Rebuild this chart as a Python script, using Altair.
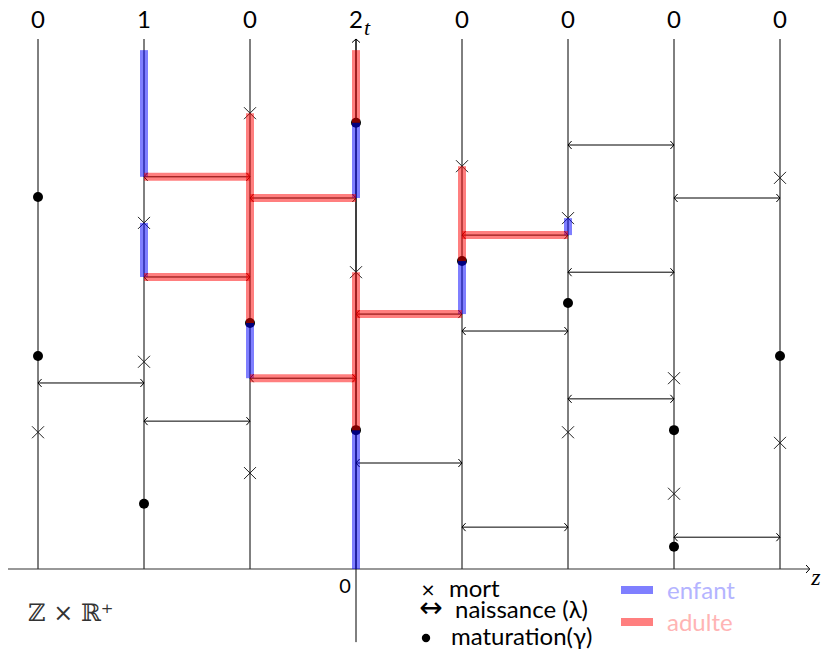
import altair as alt
import pandas as pd

# ---------------- data ----------------
columns = [-3, -2, -1, 0, 1, 2, 3, 4]
top_labels = ["0", "1", "0", "2", "0", "0", "0", "0"]
T_TOP = 10.0

# deaths (×)
death_z = [-3, -2, -2, -1, -1, 0, 1, 2, 2, 3, 3, 4, 4]
death_t = [2.58, 6.53, 3.91, 8.60, 1.81, 5.60, 7.60, 6.62, 2.58, 3.60, 1.42, 7.38, 2.38]

# maturations (•)
mat_z = [-3, -3, -2, -1, 0, 0, 1, 2, 3, 3, 4]
mat_t = [7.02, 4.02, 1.23, 4.64, 8.42, 2.62, 5.81, 5.02, 2.62, 0.42, 4.02]

# births (↔) between column z and z+1
birth_z = [-3, -2, -2, -2, -1, -1, 0, 0, 1, 1, 1, 2, 2, 2, 3, 3]
birth_t = [3.51, 7.40, 5.51, 2.79, 7.00, 3.60, 4.81, 2.00, 6.30, 4.49, 0.79, 8.00, 5.60, 3.21, 7.00, 0.60]

# highlighted lineage: enfant (vertical pieces)
enfant_z = [-2, -2, -1, 0, 0, 1, 2]
enfant_t0 = [7.40, 5.51, 3.60, 7.00, 0.00, 4.81, 6.30]
enfant_t1 = [9.79, 6.53, 4.64, 8.42, 2.62, 5.81, 6.62]

# highlighted lineage: adulte (vertical pieces)
adulte_z = [-1, 0, 0, 1]
adulte_t0 = [4.64, 8.42, 2.62, 5.81]
adulte_t1 = [8.60, 9.79, 5.60, 7.60]

# highlighted lineage: adulte (horizontal birth pieces, from z to z+1)
adulte_birth_z = [-2, -2, -1, -1, 0, 1]
adulte_birth_t = [7.40, 5.51, 7.00, 3.60, 4.81, 6.30]

# axes extents
z_axis_from, z_axis_to = -3.29, 4.28
t_axis_from = -1.38

# ---------------- layout ----------------
W, H = 814, 641
X0_PAGE, Y0_PAGE = 356, 569      # page pixel of (z=0, t=0)
PZ, PT = 106, 53                 # pixels per unit
x_dom = [(8 - X0_PAGE) / PZ, (8 + W - X0_PAGE) / PZ]
y_dom = [(Y0_PAGE - (8 + H)) / PT, (Y0_PAGE - 8) / PT]
XS = alt.Scale(domain=x_dom, nice=False, zero=False)
YS = alt.Scale(domain=y_dom, nice=False, zero=False)

BLUE, RED = "#0000ff", "#ff0000"
SANS = "Lato, DejaVu Sans"
MATH = "Liberation Serif, DejaVu Serif"

def X(f):
    return alt.X(f, type="quantitative", scale=XS, axis=None)

def Y(f):
    return alt.Y(f, type="quantitative", scale=YS, axis=None)

def text(s, px, py, size, font=SANS, color="black", align="left", style="normal"):
    return alt.Chart(pd.DataFrame({"s": [s]})).mark_text(
        align=align, baseline="alphabetic", fontSize=size, font=font,
        fontStyle=style, color=color
    ).encode(x=alt.value(px - 8), y=alt.value(py - 8), text="s:N")

RIGHT_HEAD = "M-0.9,-1L0,0L-0.9,1"
LEFT_HEAD = "M0.9,-1L0,0L0.9,1"
UP_HEAD = "M-1,0.9L0,0L1,0.9"
CROSS = "M-1,-1L1,1M1,-1L-1,1"

cols_df = pd.DataFrame({"z": columns, "t0": [0.0] * len(columns), "t1": [T_TOP] * len(columns),
                        "label": top_labels})
death_df = pd.DataFrame({"z": death_z, "t": death_t})
mat_df = pd.DataFrame({"z": mat_z, "t": mat_t})
birth_df = pd.DataFrame({"z": birth_z, "z2": [z + 1 for z in birth_z], "t": birth_t})
enf_df = pd.DataFrame({"z": enfant_z, "t0": enfant_t0, "t1": enfant_t1})
adu_df = pd.DataFrame({"z": adulte_z, "t0": adulte_t0, "t1": adulte_t1})
adub_df = pd.DataFrame({"z": adulte_birth_z, "z2": [z + 1 for z in adulte_birth_z], "t": adulte_birth_t})
zaxis_df = pd.DataFrame({"z": [z_axis_from], "z2": [z_axis_to], "t": [0.0]})
taxis_df = pd.DataFrame({"z": [0.0], "t0": [t_axis_from], "t1": [T_TOP]})

layers = []

# column lines
layers.append(alt.Chart(cols_df).mark_rule(color="black", strokeWidth=1).encode(
    x=X("z"), y=Y("t0"), y2="t1"))
# z axis
layers.append(alt.Chart(zaxis_df).mark_rule(color="#333333", strokeWidth=1.2).encode(
    x=X("z"), x2="z2", y=Y("t")))
layers.append(alt.Chart(zaxis_df).mark_point(shape=RIGHT_HEAD, filled=False, stroke="black",
                                             strokeWidth=1, size=64, opacity=1).encode(
    x=X("z2"), y=Y("t")))
# t axis
layers.append(alt.Chart(taxis_df).mark_rule(color="black", strokeWidth=1).encode(
    x=X("z"), y=Y("t0"), y2="t1"))
layers.append(alt.Chart(taxis_df).mark_point(shape=UP_HEAD, filled=False, stroke="black",
                                             strokeWidth=1, size=64, opacity=1).encode(
    x=X("z"), y=Y("t1")))
# births
layers.append(alt.Chart(birth_df).mark_rule(color="black", strokeWidth=1).encode(
    x=X("z"), x2="z2", y=Y("t")))
layers.append(alt.Chart(birth_df).mark_point(shape=LEFT_HEAD, filled=False, stroke="black",
                                             strokeWidth=1, size=64, opacity=1).encode(
    x=X("z"), y=Y("t")))
layers.append(alt.Chart(birth_df).mark_point(shape=RIGHT_HEAD, filled=False, stroke="black",
                                             strokeWidth=1, size=64, opacity=1).encode(
    x=X("z2"), y=Y("t")))
# deaths
layers.append(alt.Chart(death_df).mark_point(shape=CROSS, filled=False, stroke="#222222",
                                             strokeWidth=1, size=144, opacity=1).encode(
    x=X("z"), y=Y("t")))
# maturations
layers.append(alt.Chart(mat_df).mark_circle(size=100, color="black", opacity=1).encode(
    x=X("z"), y=Y("t")))
# highlighted lineage
layers.append(alt.Chart(enf_df).mark_rule(color=BLUE, strokeWidth=8, opacity=0.5, strokeCap="butt").encode(
    x=X("z"), y=Y("t0"), y2="t1"))
layers.append(alt.Chart(adu_df).mark_rule(color=RED, strokeWidth=8, opacity=0.5, strokeCap="butt").encode(
    x=X("z"), y=Y("t0"), y2="t1"))
layers.append(alt.Chart(adub_df).mark_rule(color=RED, strokeWidth=8, opacity=0.5, strokeCap="butt").encode(
    x=X("z"), x2="z2", y=Y("t")))

# top labels
layers.append(alt.Chart(cols_df).mark_text(baseline="alphabetic", fontSize=24, font=SANS,
                                           color="black").encode(
    x=X("z"), y=alt.value(28 - 8), text="label:N"))

# axis labels
layers.append(text("t", 367, 35, 22, font=MATH, style="italic", align="center"))
layers.append(text("z", 816, 585, 24, font=MATH, style="italic", align="center"))
layers.append(text("0", 345, 593, 20, align="center"))
layers.append(text("ℤ × ℝ⁺", 28, 621, 24, font="DejaVu Serif, DejaVu Sans", color="#333333"))

# legend (symbols)
layers.append(text("×", 428, 596, 18, font="DejaVu Sans", align="center"))
layers.append(text("↔", 431, 617, 28, font="DejaVu Sans", align="center"))
layers.append(alt.Chart(pd.DataFrame({"a": [0]})).mark_circle(size=70, color="black", opacity=1).encode(
    x=alt.value(426 - 8), y=alt.value(638 - 8)))
layers.append(text("mort", 449, 597, 24))
layers.append(text("naissance (λ)", 455, 618, 24))
layers.append(text("maturation(γ)", 451, 645, 24))

# legend (colours)
for py, col, lab, tcol in [(590, BLUE, "enfant", "#b4b4ff"), (622, RED, "adulte", "#ffb4b4")]:
    layers.append(alt.Chart(pd.DataFrame({"a": [0]})).mark_rule(
        color=col, strokeWidth=8, opacity=0.5, strokeCap="butt").encode(
        x=alt.value(621 - 8), x2=alt.value(653 - 8), y=alt.value(py - 8)))
    layers.append(text(lab, 667, py + 9, 24, color=tcol))

chart = alt.layer(*layers).properties(
    width=W, height=H, autosize=alt.AutoSizeParams(type="none"), padding=0
).configure_view(stroke=None)

chart.save("out.html", embed_options={"renderer": "svg", "actions": False})
